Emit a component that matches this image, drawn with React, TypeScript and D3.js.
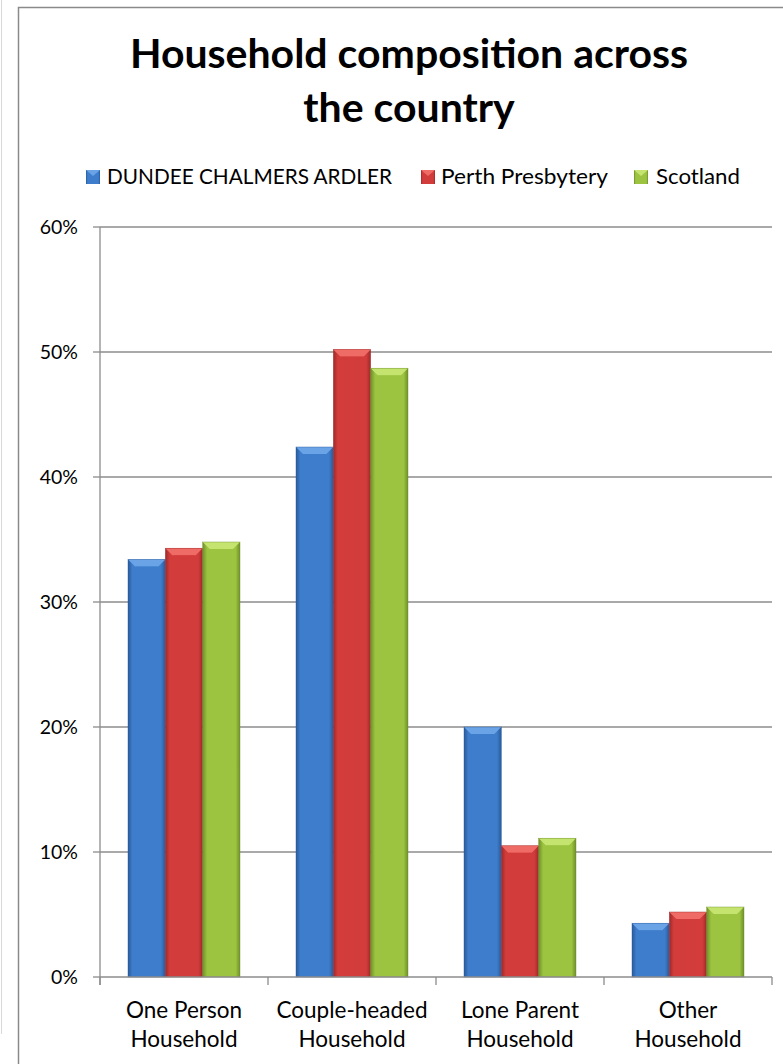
import React from "react";
import * as d3 from "d3";

const categories = [["One Person", "Household"], ["Couple-headed", "Household"], ["Lone Parent", "Household"], ["Other", "Household"]];
const seriesNames = ["DUNDEE CHALMERS ARDLER", "Perth Presbytery", "Scotland"];
const dundee = [33.4, 42.4, 20.0, 4.3];
const perth = [34.3, 50.2, 10.5, 5.2];
const scotland = [34.8, 48.7, 11.1, 5.6];
const yTicks = [0, 10, 20, 30, 40, 50, 60];
const colors = [
  { main: "#3e7dcb", dark: "#285a9c", light: "#6aa3e6" },
  { main: "#d23c3b", dark: "#9e2a2a", light: "#ef6b66" },
  { main: "#9dc441", dark: "#6f8f2a", light: "#c4e46f" },
];

const W = 783, H = 1064;
const FONT = "Lato, 'Open Sans', sans-serif";

export default function App() {
  const series = [dundee, perth, scotland];
  const left = 100, right = 772, top = 227, bottom = 977;
  const x = d3.scaleBand<number>().domain(d3.range(categories.length)).range([left, right]).paddingInner(0).paddingOuter(0);
  const inner = d3.scaleBand<number>().domain(d3.range(series.length)).range([0, x.bandwidth()]).paddingInner(0).paddingOuter(0.75);
  const y = d3.scaleLinear().domain([0, 60]).range([bottom, top]);
  const gridColor = "#8c8c8c";
  const markerX = [86, 421, 634];
  const textX = [107, 441, 656];
  const textW = [285, 167, 84];

  return (
    <svg width={W} height={H} style={{ position: "absolute", left: 0, top: 0 }} fontFamily={FONT}>
      <defs>
        {colors.map((c, i) => (
          <linearGradient key={i} id={`g${i}`} x1="0" x2="1" y1="0" y2="0">
            <stop offset="0" stopColor={c.dark} />
            <stop offset="0.12" stopColor={c.main} />
            <stop offset="0.5" stopColor={c.main} />
            <stop offset="0.88" stopColor={c.main} />
            <stop offset="1" stopColor={c.dark} />
          </linearGradient>
        ))}
      </defs>
      <rect x={0} y={0} width={W} height={H} fill="#fff" />
      <line x1={1.5} x2={1.5} y1={0} y2={1034} stroke="#d9d9d9" strokeWidth={1} />
      <rect x={18.5} y={7.5} width={W + 10} height={H + 10} fill="#fff" stroke="#8a8a8a" strokeWidth={1.5} />
      <text x={409} y={68} textAnchor="middle" fontSize={41} fontWeight="bold" fill="#000">Household composition across</text>
      <text x={409} y={122} textAnchor="middle" fontSize={41} fontWeight="bold" fill="#000">the country</text>

      {/* legend */}
      {seriesNames.map((n, i) => (
        <g key={n}>
          <rect x={markerX[i]} y={170} width={14} height={14} fill={`url(#g${i})`} />
          <polygon points={`${markerX[i]},170 ${markerX[i] + 14},170 ${markerX[i] + 7},176`} fill={colors[i].light} />
          <text x={textX[i]} y={184} fontSize={21.7} fill="#000" textLength={textW[i]} lengthAdjust="spacingAndGlyphs">{n}</text>
        </g>
      ))}

      {/* gridlines */}
      {yTicks.filter((t) => t > 0).map((t) => (
        <line key={t} x1={left} x2={right} y1={y(t)} y2={y(t)} stroke={gridColor} strokeWidth={1.3} />
      ))}
      {yTicks.map((t) => (
        <g key={"yt" + t}>
          <line x1={93} x2={left} y1={y(t)} y2={y(t)} stroke={gridColor} strokeWidth={1.3} />
          <text x={78} y={y(t) + 7} textAnchor="end" fontSize={19.5} fill="#000">{t}%</text>
        </g>
      ))}
      <line x1={left} x2={left} y1={top} y2={bottom + 8} stroke={gridColor} strokeWidth={1.3} />

      {/* bars */}
      {categories.map((_, ci) =>
        series.map((s, si) => {
          const bx = (x(ci) as number) + (inner(si) as number);
          const bw = inner.bandwidth();
          const by = y(s[ci]);
          const bh = bottom - by;
          const b = 7;
          const c = colors[si];
          return (
            <g key={ci + "-" + si}>
              <rect x={bx} y={by} width={bw} height={bh} fill={`url(#g${si})`} />
              <polygon points={`${bx},${by} ${bx + bw},${by} ${bx + bw - b},${by + b} ${bx + b},${by + b}`} fill={c.light} />
              <polygon points={`${bx + b},${by + b} ${bx + bw - b},${by + b} ${bx + bw / 2},${by + b + 4}`} fill={c.main} opacity={0.6} />
              <rect x={bx} y={by} width={bw} height={bh} fill="none" stroke={c.dark} strokeWidth={0.6} opacity={0.7} />
            </g>
          );
        })
      )}

      {/* x axis */}
      <line x1={left} x2={right} y1={bottom} y2={bottom} stroke={gridColor} strokeWidth={1.3} />
      {d3.range(categories.length + 1).map((i) => {
        const tx = left + i * x.bandwidth();
        return <line key={"xt" + i} x1={tx} x2={tx} y1={bottom} y2={bottom + 8} stroke={gridColor} strokeWidth={1.3} />;
      })}
      {categories.map((lines, ci) => (
        <text key={"xl" + ci} textAnchor="middle" fontSize={22.5} fill="#000">
          {lines.map((l, li) => (
            <tspan key={li} x={(x(ci) as number) + x.bandwidth() / 2} y={1018 + li * 29}>{l}</tspan>
          ))}
        </text>
      ))}
    </svg>
  );
}
